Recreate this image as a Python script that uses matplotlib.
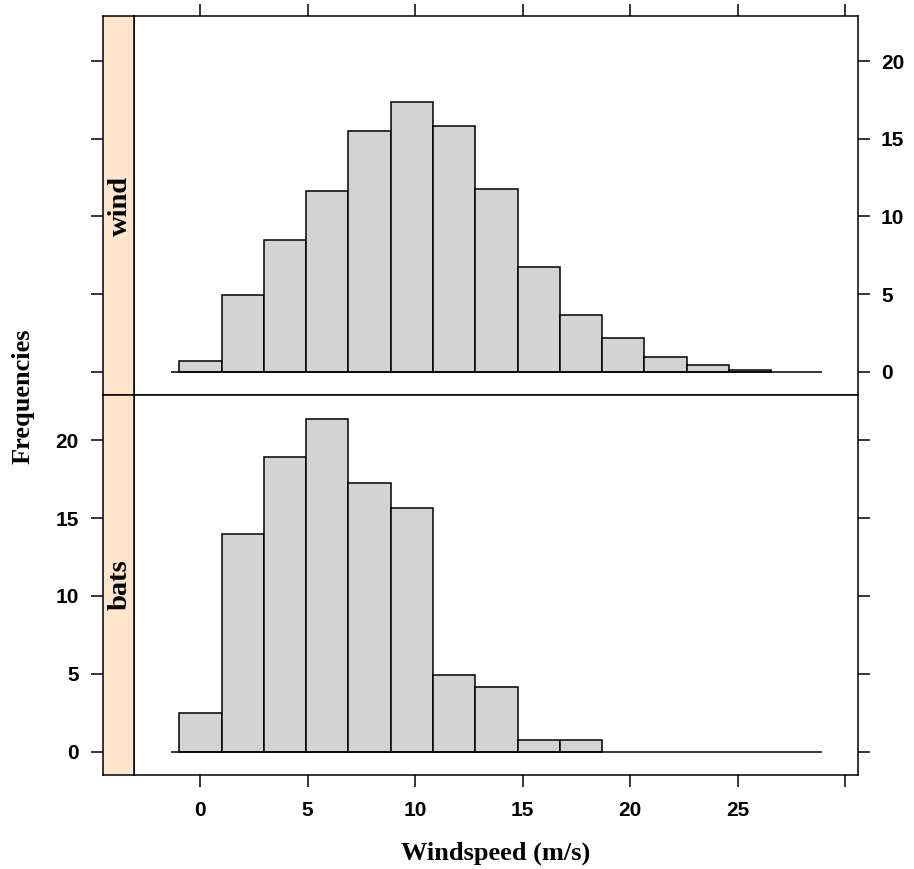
import matplotlib
matplotlib.use("Agg")
import matplotlib.pyplot as plt
import numpy as np

# Histogram bin edges (windspeed, m/s) shared by both panels
bin_edges = [-0.96, 1.01, 2.97, 4.94, 6.90, 8.87, 10.84, 12.80,
             14.77, 16.73, 18.70, 20.66, 22.63, 24.60, 26.56]

# Percent of observations per bin
wind_pct = [0.69, 4.91, 8.45, 11.66, 15.52, 17.34, 15.84, 11.75,
            6.75, 3.64, 2.17, 0.96, 0.43, 0.13]
bats_pct = [2.47, 13.98, 18.91, 21.37, 17.23, 15.65, 4.91, 4.12,
            0.77, 0.77, 0.0, 0.0, 0.0, 0.0]

panel_names = ["wind", "bats"]
x_ticks = [0, 5, 10, 15, 20, 25, 30]
x_ticklabels = ["0", "5", "10", "15", "20", "25", ""]
y_ticks = [0, 5, 10, 15, 20]
y_ticklabels = ["0", "5", "10", "15", "20"]
baseline_span = (-1.36, 28.92)

XLIM = (-3.07, 30.6)
YLIM = (-1.5, 22.9)

W, H = 914, 869
fig = plt.figure(figsize=(W / 100, H / 100), dpi=100)

tick_font = dict(family="Liberation Sans", weight="bold", size=15)
label_font = dict(family="Liberation Serif", weight="bold", size=19)
strip_font = dict(family="Liberation Serif", weight="bold", size=20.5)
strip_bg = "#FFE5CC"
bar_fill = "#D3D3D3"
LW = 1.1
TICK_LEN = 8.5


def box(x0, y0, x1, y1):
    return [x0 / W, 1 - y1 / H, (x1 - x0) / W, (y1 - y0) / H]


panel_rows = [(16, 395), (395, 775)]
data = [wind_pct, bats_pct]
edges = np.asarray(bin_edges)
widths = np.diff(edges)

for i, (name, (ytop, ybot), vals) in enumerate(zip(panel_names, panel_rows, data)):
    ax = fig.add_axes(box(134, ytop, 858, ybot))
    strip = fig.add_axes(box(103, ytop, 134, ybot))

    vals = np.asarray(vals)
    nz = vals > 0
    ax.bar(edges[:-1][nz], vals[nz], width=widths[nz], align="edge",
           color=bar_fill, edgecolor="black", linewidth=LW, zorder=2)
    ax.plot(baseline_span, [0, 0], color="black", lw=LW, zorder=3,
            solid_capstyle="butt")
    ax.set_xlim(*XLIM)
    ax.set_ylim(*YLIM)

    for a in (ax, strip):
        for sp in a.spines.values():
            sp.set_linewidth(LW)
            sp.set_color("black")

    # strip with panel name
    strip.set_facecolor(strip_bg)
    strip.set_xlim(0, 1)
    strip.set_ylim(*YLIM)
    strip.set_xticks([])
    strip.text(0.55, 0.5, name, rotation=90, ha="center", va="center",
               transform=strip.transAxes, **strip_font)

    # left ticks live on the strip's outer edge
    strip.yaxis.set_ticks_position("left")
    strip.set_yticks(y_ticks)
    strip.tick_params(axis="y", direction="out", length=TICK_LEN, width=LW,
                      pad=9)
    # right ticks on the panel
    ax.yaxis.set_ticks_position("right")
    ax.set_yticks(y_ticks)
    ax.tick_params(axis="y", direction="out", length=TICK_LEN, width=LW, pad=8)

    ax.set_xticks(x_ticks)
    if i == 0:
        ax.xaxis.set_ticks_position("top")
        ax.set_xticklabels([])
        strip.set_yticklabels([])
        ax.set_yticklabels(y_ticklabels, **tick_font)
    else:
        ax.xaxis.set_ticks_position("bottom")
        ax.set_xticklabels(x_ticklabels, **tick_font)
        strip.set_yticklabels(y_ticklabels, **tick_font)
        ax.set_yticklabels([])
    ax.tick_params(axis="x", direction="out", length=TICK_LEN, width=LW, pad=10)

fig.text(496 / W, 1 - 860 / H, "Windspeed (m/s)", ha="center", va="baseline",
         **label_font)
fig.text(23 / W, 1 - 396 / H, "Frequencies", rotation=90, ha="center",
         va="center", **label_font)

fig.savefig("out.png", dpi=100)
